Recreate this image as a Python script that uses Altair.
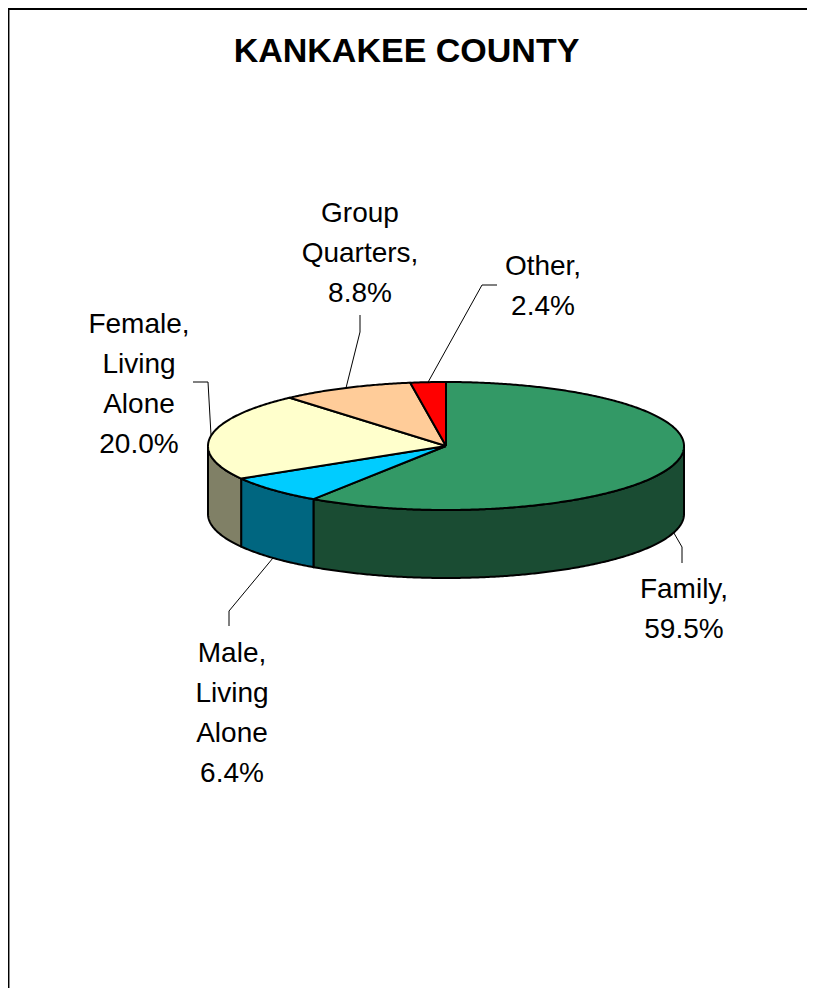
import math
import numpy as np
import pandas as pd
import altair as alt

# ---------------- data ----------------
categories = ["Family", "Male, Living Alone", "Female, Living Alone", "Group Quarters", "Other"]
label_names = ["Family,", "Male,\nLiving\nAlone", "Female,\nLiving\nAlone", "Group\nQuarters,", "Other,"]
label_pct = [59.5, 6.4, 20.0, 8.8, 2.4]          # printed percentages
arc_share = [59.4, 7.1, 22.1, 9.0, 2.4]          # share of the circle each slice occupies in the picture
top_colors = ["#339966", "#00CCFF", "#FFFFCC", "#FFCC99", "#FF0000"]
side_colors = ["#1A4C33", "#006680", "#808066", "#806650", "#800000"]
title_text = "KANKAKEE COUNTY"

# ---------------- layout (page pixel units) ----------------
CX, CY, RX, RY, DEPTH = 446, 446, 238, 64, 68
label_pos = [(684, 598), (232, 662), (139, 333), (360, 222), (543, 275)]
leader_pts = [
    [(682, 563), (682, 547)],
    [(229, 626), (229, 611)],
    [(193, 382), (208, 382)],
    [(360, 315), (360, 332)],
    [(497, 285), (482, 285)],
]


def ell(t, dz=0.0):
    r = math.radians(t)
    return CX + RX * math.cos(r), CY + RY * math.sin(r) + dz


top_rows, side_rows, lead_rows, lab_rows = [], [], [], []
start = -90.0
for i, (cat, share) in enumerate(zip(categories, arc_share)):
    t0, t1 = start, start + share * 3.6
    start = t1
    n = max(3, int(abs(t1 - t0) * 2) + 1)
    angs = np.linspace(t0, t1, n)
    pts = [(CX, CY)] + [ell(a) for a in angs] + [(CX, CY)]
    for k, (x, y) in enumerate(pts):
        top_rows.append({"poly": cat, "i": k, "x": x, "y": y, "col": top_colors[i]})
    a0, a1 = max(t0, 0.0), min(t1, 180.0)
    if a1 > a0:
        sa = np.linspace(a0, a1, max(3, int((a1 - a0) * 2) + 1))
        spts = [ell(a) for a in sa] + [ell(a, DEPTH) for a in sa[::-1]] + [ell(sa[0])]
        for k, (x, y) in enumerate(spts):
            side_rows.append({"poly": cat, "i": k, "x": x, "y": y, "col": side_colors[i]})
    mid = (t0 + t1) / 2
    anchor = ell(mid, DEPTH if math.sin(math.radians(mid)) > 0 else 0.0)
    for k, (x, y) in enumerate(leader_pts[i] + [anchor]):
        lead_rows.append({"poly": cat, "i": k, "x": x, "y": y})
    lab_rows.append({"x": label_pos[i][0], "y": label_pos[i][1],
                     "text": f"{label_names[i]}\n{label_pct[i]:.1f}%"})

tops = pd.DataFrame(top_rows)
sides = pd.DataFrame(side_rows)
leads = pd.DataFrame(lead_rows)
labs = pd.DataFrame(lab_rows)
title_df = pd.DataFrame([{"x": 406.5, "y": 62, "text": title_text}])
border_df = pd.DataFrame([
    {"x": 8, "x2": 807, "y": 9, "y2": 9, "w": 2},
    {"x": 8.7, "x2": 8.7, "y": 8, "y2": 988, "w": 1.5},
])

W, H = 799, 980
xs = alt.Scale(domain=[8, 8 + W], nice=False, zero=False)
ys = alt.Scale(domain=[8, 8 + H], nice=False, zero=False, reverse=True)
X = alt.X("x:Q", scale=xs, axis=None)
Y = alt.Y("y:Q", scale=ys, axis=None)

side_layer = alt.Chart(sides).mark_line(
    filled=True, stroke="black", strokeWidth=2, strokeJoin="round"
).encode(x=X, y=Y, color=alt.Color("col:N", scale=None), detail="poly:N", order="i:Q")

top_layer = alt.Chart(tops).mark_line(
    filled=True, stroke="black", strokeWidth=2, strokeJoin="round"
).encode(x=X, y=Y, color=alt.Color("col:N", scale=None), detail="poly:N", order="i:Q")

lead_layer = alt.Chart(leads).mark_line(color="black", strokeWidth=1).encode(
    x=X, y=Y, detail="poly:N", order="i:Q"
)

label_layer = alt.Chart(labs).mark_text(
    font="Liberation Sans", fontSize=28, lineHeight=40, lineBreak="\n",
    align="center", baseline="alphabetic", color="black"
).encode(x=X, y=Y, text="text:N")

title_layer = alt.Chart(title_df).mark_text(
    font="Liberation Sans", fontSize=34, fontWeight="bold",
    align="center", baseline="alphabetic", color="black"
).encode(x=X, y=Y, text="text:N")

border_layer = alt.Chart(border_df).mark_rule(color="black").encode(
    x=X, y=Y, x2="x2:Q", y2="y2:Q", strokeWidth=alt.StrokeWidth("w:Q", scale=None)
)

chart = alt.layer(
    border_layer, side_layer, top_layer, lead_layer, label_layer, title_layer
).properties(
    width=W, height=H, padding=0, autosize=alt.AutoSizeParams(type="none"), background="white"
).configure_view(strokeWidth=0)

chart.save("out.html", embed_options={"renderer": "svg", "actions": False})
